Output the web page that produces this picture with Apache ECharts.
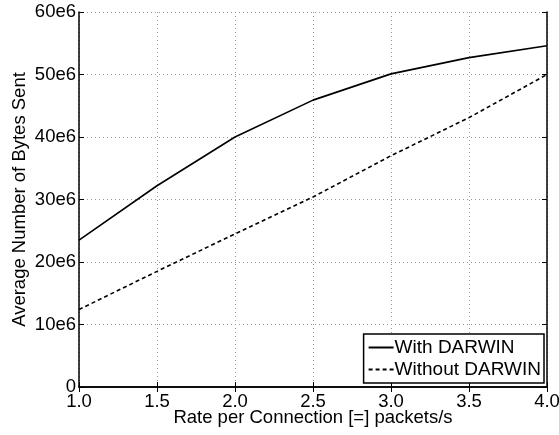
<!DOCTYPE html>
<html>
<head>
<meta charset="utf-8">
<script src="https://cdn.jsdelivr.net/npm/echarts@6/dist/echarts.min.js"></script>
<style>html,body{margin:0;padding:0;background:#fff;}#c{width:559px;height:435px;}</style>
</head>
<body>
<div id="c"></div>
<script>
var rates = [1.0, 1.5, 2.0, 2.5, 3.0, 3.5, 4.0];
var withDarwin = [23.5e6, 32.2e6, 40.0e6, 45.9e6, 50.1e6, 52.7e6, 54.6e6];
var withoutDarwin = [12.4e6, 18.5e6, 24.5e6, 30.4e6, 37.0e6, 43.1e6, 50.0e6];
var xTickLabels = ['1.0', '1.5', '2.0', '2.5', '3.0', '3.5', '4.0'];
var yTickLabels = ['0', '10e6', '20e6', '30e6', '40e6', '50e6', '60e6'];

var font = 'Liberation Sans, Arial, Helvetica, sans-serif';
var chart = echarts.init(document.getElementById('c'), null, {renderer: 'canvas'});

function pairs(xs, ys) { return xs.map(function (x, i) { return [x, ys[i]]; }); }

var axisLine = {show: true, lineStyle: {color: '#000', width: 1.5}};
var tick = {show: true, inside: true, length: 5, lineStyle: {color: '#000', width: 1}};
var grid = {show: true, lineStyle: {color: '#9a9a9a', type: [1, 3], width: 1}};

chart.setOption({
  animation: false,
  backgroundColor: '#fff',
  grid: {left: 79, right: 12, top: 12, bottom: 48, containLabel: false, outerBoundsMode: 'none'},
  xAxis: [{
    type: 'value', min: 1.0, max: 4.0, interval: 0.5, position: 'bottom',
    name: 'Rate per Connection [=] packets/s', nameLocation: 'middle', nameGap: 21,
    nameMoveOverlap: false,
    nameTextStyle: {fontFamily: font, fontSize: 18.5, color: '#000'},
    axisLine: axisLine, axisTick: tick, splitLine: grid,
    axisLabel: {fontFamily: font, fontSize: 18.5, color: '#000', margin: 5,
      formatter: function (v) { return xTickLabels[Math.round((v - 1) / 0.5)]; }}
  }, {
    type: 'value', min: 1.0, max: 4.0, interval: 0.5, position: 'top',
    axisLine: axisLine, axisTick: tick, splitLine: {show: false}, axisLabel: {show: false}
  }],
  yAxis: [{
    type: 'value', min: 0, max: 60e6, interval: 10e6, position: 'left',
    name: 'Average Number of Bytes Sent', nameLocation: 'middle', nameGap: 50,
    nameMoveOverlap: false,
    nameTextStyle: {fontFamily: font, fontSize: 18.5, color: '#000'},
    axisLine: axisLine, axisTick: tick, splitLine: grid,
    axisLabel: {fontFamily: font, fontSize: 18.5, color: '#000', margin: 3,
      formatter: function (v) { return yTickLabels[Math.round(v / 10e6)]; }}
  }, {
    type: 'value', min: 0, max: 60e6, interval: 10e6, position: 'right',
    axisLine: axisLine, axisTick: tick, splitLine: {show: false}, axisLabel: {show: false}
  }],
  legend: {
    orient: 'vertical', right: 15, bottom: 52,
    backgroundColor: '#fff', borderColor: '#000', borderWidth: 1.5, borderRadius: 0,
    padding: [4, 3, 4, 4], itemGap: 3, itemWidth: 25, itemHeight: 14,
    itemStyle: {opacity: 0},
    textStyle: {fontFamily: font, fontSize: 19, color: '#000', padding: [0, 0, 0, -4]},
    data: ['With DARWIN', 'Without DARWIN']
  },
  series: [{
    name: 'With DARWIN', type: 'line', xAxisIndex: 0, yAxisIndex: 0,
    data: pairs(rates, withDarwin), symbol: 'none',
    lineStyle: {color: '#000', width: 1.6, type: 'solid'}, itemStyle: {color: '#000'}
  }, {
    name: 'Without DARWIN', type: 'line', xAxisIndex: 0, yAxisIndex: 0,
    data: pairs(rates, withoutDarwin), symbol: 'none',
    lineStyle: {color: '#000', width: 1.6, type: [4, 3]}, itemStyle: {color: '#000'}
  }]
});
</script>
</body>
</html>
